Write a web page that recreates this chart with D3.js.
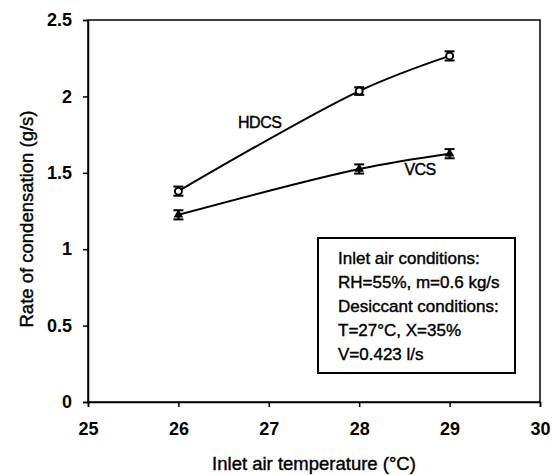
<!DOCTYPE html>
<html>
<head>
<meta charset="utf-8">
<title>Rate of condensation</title>
<script src="https://d3js.org/d3.v7.min.js"></script>
<style>
  body { margin: 0; background: #fff; }
  text { font-family: "Liberation Sans", Arial, sans-serif; fill: #000; }
  .tick text { font-size: 18px; font-weight: bold; }
  .domain, .tick line { stroke: #000; stroke-width: 1.5px; }
  .heavy { stroke: #000; stroke-width: 0.4px; }
</style>
</head>
<body>
<svg width="555" height="475"></svg>
<script>
// data
var temps = [26, 28, 29];
var hdcs = [1.38, 2.035, 2.265];
var vcs = [1.225, 1.525, 1.625];
var errHdcs = [0.03, 0.025, 0.03];
var errVcs = [0.03, 0.03, 0.03];
var xTicks = [25, 26, 27, 28, 29, 30];
var yTicks = [0, 0.5, 1, 1.5, 2, 2.5];
var boxLines = ["Inlet air conditions:", "RH=55%, m=0.6 kg/s", "Desiccant conditions:", "T=27°C, X=35%", "V=0.423 l/s"];

var svg = d3.select("svg");
var margin = {left: 88, top: 20, right: 15, bottom: 73};
var W = 555 - margin.left - margin.right,
    H = 475 - margin.top - margin.bottom;

var x = d3.scaleLinear().domain([25, 30]).range([margin.left, margin.left + W]);
var y = d3.scaleLinear().domain([0, 2.5]).range([margin.top + H, margin.top]);

// frame
svg.append("rect")
    .attr("x", x(25)).attr("y", y(2.5))
    .attr("width", x(30) - x(25)).attr("height", y(0) - y(2.5))
    .attr("fill", "none").attr("stroke", "#000").attr("stroke-width", 1.5);

svg.append("g")
    .attr("transform", "translate(0," + y(0) + ")")
    .call(d3.axisBottom(x).tickValues(xTicks).tickSize(5).tickPadding(15).tickFormat(d3.format("d")));

svg.append("g")
    .attr("transform", "translate(" + x(25) + ",0)")
    .call(d3.axisLeft(y).tickValues(yTicks).tickSize(5).tickPadding(11).tickFormat(function(d) { return String(d); }));

svg.append("text")
    .attr("class", "heavy")
    .attr("x", 314).attr("y", 470)
    .attr("text-anchor", "middle").style("font-size", "18.5px")
    .text("Inlet air temperature (°C)");

svg.append("text")
    .attr("class", "heavy")
    .attr("transform", "translate(33,219) rotate(-90)")
    .attr("text-anchor", "middle").style("font-size", "18.5px")
    .text("Rate of condensation (g/s)");

var line = d3.line().curve(d3.curveCatmullRom.alpha(0.5))
    .x(function(d) { return x(d[0]); }).y(function(d) { return y(d[1]); });

function drawSeries(vals, errs, marker) {
  var pts = temps.map(function(t, i) { return [t, vals[i], errs[i]]; });
  svg.append("path").datum(pts).attr("d", line)
      .attr("fill", "none").attr("stroke", "#000").attr("stroke-width", 2);
  var g = svg.append("g").selectAll("g").data(pts).enter().append("g")
      .attr("transform", function(d) { return "translate(" + x(d[0]) + ",0)"; });
  g.append("line")
      .attr("x1", 0).attr("x2", 0)
      .attr("y1", function(d) { return y(d[1] + d[2]); })
      .attr("y2", function(d) { return y(d[1] - d[2]); })
      .attr("stroke", "#000").attr("stroke-width", 2);
  [1, -1].forEach(function(s) {
    g.append("line")
        .attr("x1", -5).attr("x2", 5)
        .attr("y1", function(d) { return y(d[1] + s * d[2]); })
        .attr("y2", function(d) { return y(d[1] + s * d[2]); })
        .attr("stroke", "#000").attr("stroke-width", 2);
  });
  if (marker === "circle") {
    g.append("circle").attr("cy", function(d) { return y(d[1]); }).attr("r", 3.5)
        .attr("fill", "#fff").attr("stroke", "#000").attr("stroke-width", 2);
  } else {
    g.append("path")
        .attr("d", d3.symbol(d3.symbolTriangle, 40))
        .attr("transform", function(d) { return "translate(0," + y(d[1]) + ")"; })
        .attr("fill", "#000");
  }
}

drawSeries(hdcs, errHdcs, "circle");
drawSeries(vcs, errVcs, "triangle");

svg.append("text").attr("class", "heavy").attr("x", x(26.66)).attr("y", y(1.79))
    .style("font-size", "16px").style("letter-spacing", "-0.5px").text("HDCS");
svg.append("text").attr("class", "heavy").attr("x", x(28.5)).attr("y", y(1.485))
    .style("font-size", "16px").style("letter-spacing", "-0.5px").text("VCS");

// conditions box
svg.append("rect")
    .attr("x", 318).attr("y", 238).attr("width", 197).attr("height", 135)
    .attr("fill", "#fff").attr("stroke", "#000").attr("stroke-width", 2);
svg.append("g").selectAll("text").data(boxLines).enter().append("text")
    .attr("class", "heavy")
    .attr("x", 338)
    .attr("y", function(d, i) { return 264 + i * 24; })
    .style("font-size", "17px")
    .text(function(d) { return d; });
</script>
</body>
</html>
